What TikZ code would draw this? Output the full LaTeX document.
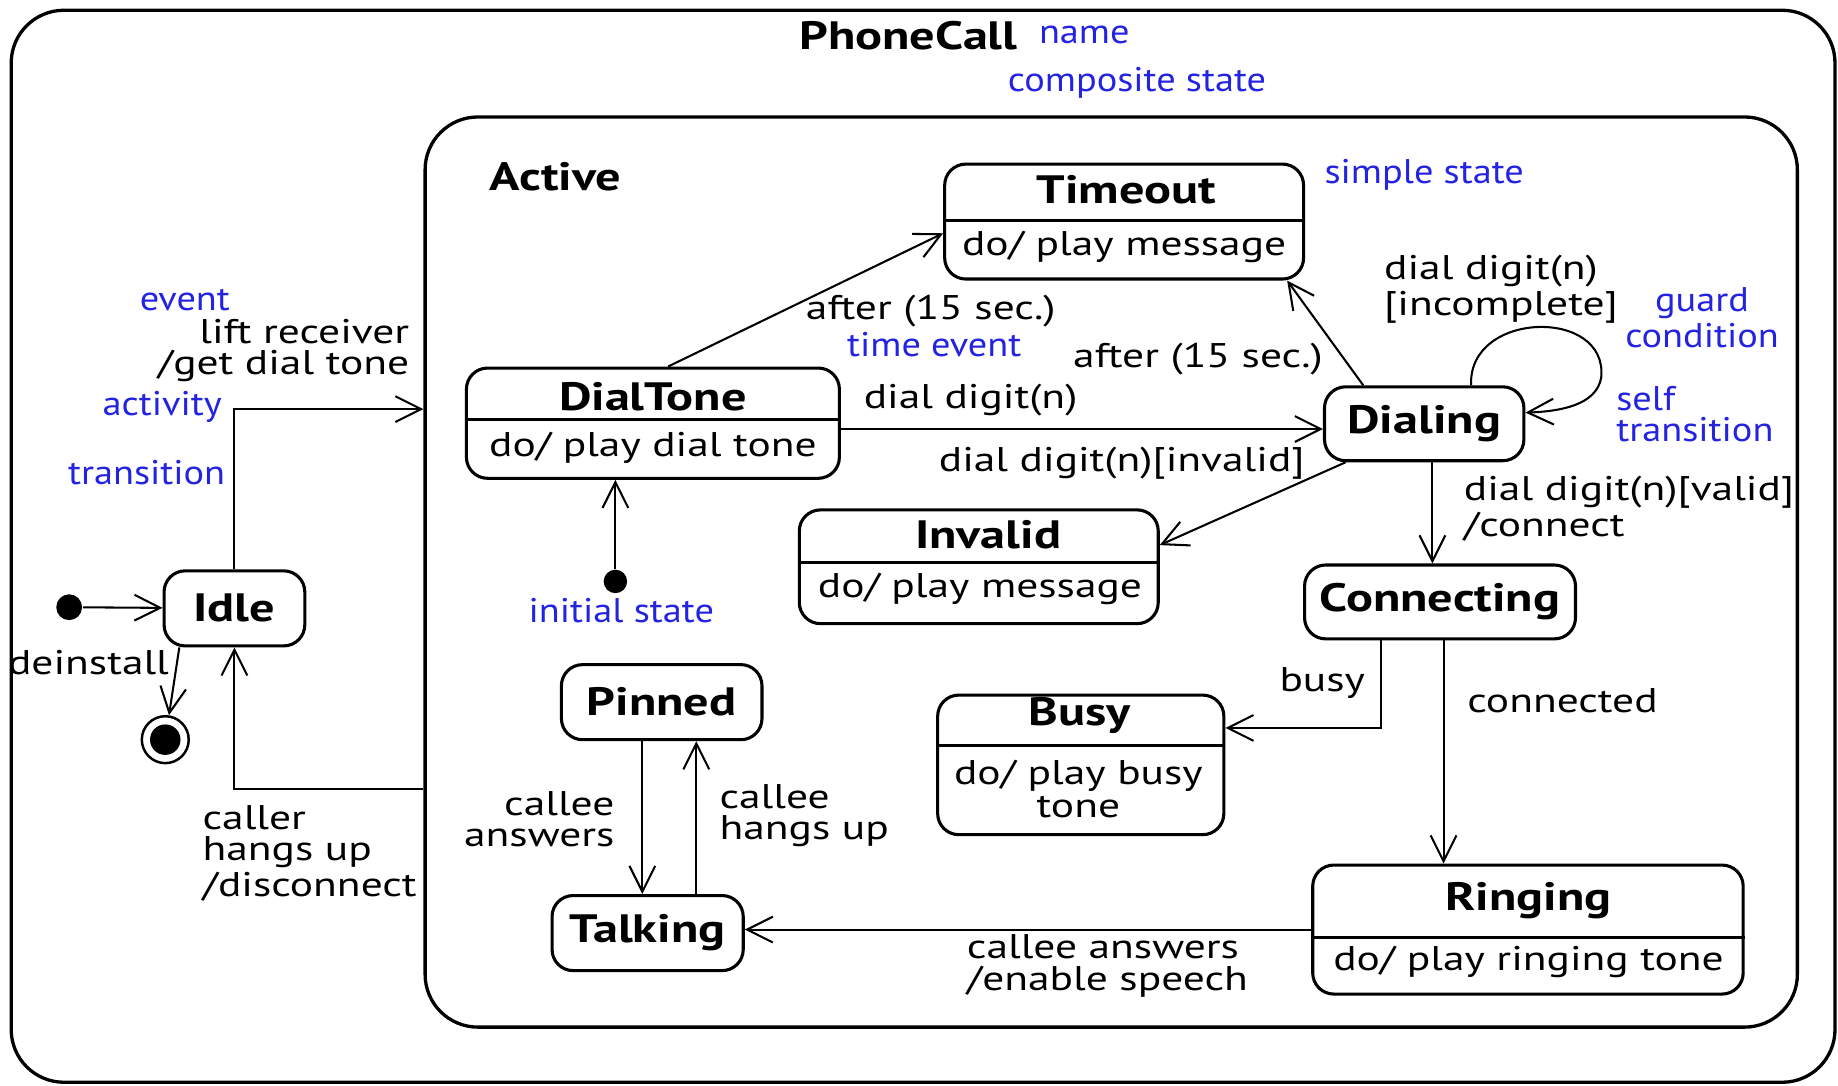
\documentclass[tikz,border=0pt]{standalone}
\usepackage{fontspec}
\setmainfont{PT Sans}[FakeStretch=1.27]
\newfontfamily\notefont{PT Sans}[FakeStretch=1.12]
\usetikzlibrary{arrows.meta}
\definecolor{noteblue}{RGB}{35,35,225}

\begin{document}
\begin{tikzpicture}[
        x=0.01cm, y=-0.01cm,
        ->,
        >={Straight Barb[length=2.2mm, width=2.2mm]},
        line width=0.5pt,
        % boxes
        region/.style={draw, rounded corners=4.5mm, line width=0.8pt, inner sep=0pt},
        state/.style={draw, rounded corners=1.8mm, line width=0.75pt, inner sep=0pt},
        divider/.style={-, line width=0.75pt},
        % texts
        title/.style={font=\fontsize{9.6}{10}\selectfont\bfseries, inner sep=0pt},
        act/.style={font=\fontsize{8.3}{8}\selectfont, inner sep=0pt, align=center},
        trans/.style={font=\fontsize{8.3}{7.6}\selectfont, inner sep=0pt, align=left},
        note/.style={trans, font=\fontsize{8.3}{7.6}\notefont, text=noteblue},
        dot/.style={circle, fill=black, inner sep=0pt, minimum size=2mm},
    ]
    \useasboundingbox (0,0) rectangle (1568,926);

    % composite states
    \node (phonecall) [region, minimum width=15.55cm, minimum height=9.14cm] at (787.5,466) {};
    \node (active) [region, minimum width=11.70cm, minimum height=7.76cm] at (948,488) {};
    \node (phonecall-t) [title] at (775,30) {PhoneCall};
    \node (name) [note] at (925,30) {name};
    \node (composite) [note] at (970,71) {composite state};
    \node (active-t) [title] at (474,151) {Active};

    % simple states
    \node (idle) [state, minimum width=1.20cm, minimum height=0.64cm, title] at (200,519) {Idle};
    \node (dialing) [state, minimum width=1.70cm, minimum height=0.63cm, title] at (1215,361.5) {Dialing};
    \node (connecting) [state, minimum width=2.31cm, minimum height=0.63cm, title] at (1228.5,513.5) {Connecting};
    \node (pinned) [state, minimum width=1.71cm, minimum height=0.64cm, title] at (564.5,599) {Pinned};
    \node (talking) [state, minimum width=1.63cm, minimum height=0.64cm, title] at (552.5,796) {Talking};

    % states with an activity
    \node (timeout) [state, minimum width=3.06cm, minimum height=0.98cm] at (959,189) {};
    \draw [divider] (timeout.west |- 0,188) -- (timeout.east |- 0,188);
    \node (timeout-t) [title] at (961,162) {Timeout};
    \node (timeout-do) [act] at (959,211) {do/ play message};

    \node (dialtone) [state, minimum width=3.18cm, minimum height=0.94cm] at (557,361) {};
    \draw [divider] (dialtone.west |- 0,358) -- (dialtone.east |- 0,358);
    \node (dialtone-t) [title] at (557,338) {DialTone};
    \node (dialtone-do) [act] at (557,382) {do/ play dial tone};

    \node (invalid) [state, minimum width=3.06cm, minimum height=0.97cm] at (835,483.5) {};
    \draw [divider] (invalid.west |- 0,480) -- (invalid.east |- 0,480);
    \node (invalid-t) [title] at (843,456) {Invalid};
    \node (invalid-do) [act] at (836,502) {do/ play message};

    \node (busy) [state, minimum width=2.44cm, minimum height=1.19cm] at (922,652.5) {};
    \draw [divider] (busy.west |- 0,636) -- (busy.east |- 0,636);
    \node (busy-t) [title] at (921,610) {Busy};
    \node (busy-do) [act] at (920,673) {do/ play busy\\tone};

    \node (ringing) [state, minimum width=3.67cm, minimum height=1.10cm] at (1303.5,793) {};
    \draw [divider] (ringing.west |- 0,800) -- (ringing.east |- 0,800);
    \node (ringing-t) [title] at (1304,768) {Ringing};
    \node (ringing-do) [act] at (1304,821) {do/ play ringing tone};

    % pseudo states
    \node (start) [dot, minimum size=2.2mm] at (59,518) {};
    \node (final) [circle, draw, line width=0.6pt, minimum size=0.40cm, inner sep=0pt,
        path picture={\fill (path picture bounding box.center) circle (1.3mm);}] at (141,631) {};
    \node (init) [dot] at (525,496) {};
    \node (init-note) [note] at (530,521) {initial state};

    % transitions
    \draw (start) -- (idle);
    \draw ([xshift=-0.47cm]idle.south) -- (final);
    \draw (idle.north) |- (active.west |- 0,349);
    \draw (active.west |- 0,673) -| (idle.south);
    \draw (init) -- (init |- dialtone.south);
    \draw ([xshift=0.13cm]dialtone.north) -- (timeout.west |- 0,199);
    \draw (dialtone.east |- 0,366) -- (dialing.west |- 0,366);
    \draw ([xshift=-0.67cm]dialing.south) -- (invalid.east |- 0,465);
    \draw ([xshift=-0.52cm]dialing.north) -- ([xshift=1.39cm]timeout.south);
    \draw ([xshift=0.40cm]dialing.north) .. controls (1252,265) and (1372,262) .. (1366,322)
        .. controls (1362,346) and (1330,351) .. (dialing.east |- 0,352);
    \draw ([xshift=0.07cm]dialing.south) -- ([xshift=0.07cm]dialing.south |- connecting.north);
    \draw ([xshift=-0.50cm]connecting.south) |- (busy.east |- 0,621);
    \draw ([xshift=0.03cm]connecting.south) -- ([xshift=0.03cm]connecting.south |- ringing.north);
    \draw (ringing.west) -- (ringing.west -| talking.east);
    \draw ([xshift=-0.165cm]pinned.south) -- ([xshift=-0.165cm]pinned.south |- talking.north);
    \draw ([xshift=0.415cm]talking.north) -- ([xshift=0.415cm]talking.north |- pinned.south);

    % labels
    \node (event) [note, anchor=east] at (197,256) {event};
    \node (lift) [trans, anchor=east, align=right] at (350,299) {lift receiver\\/get dial tone};
    \node (activity) [note, anchor=east] at (190,347) {activity};
    \node (transition) [note, anchor=east] at (193,403) {transition};
    \node (deinstall) [trans, anchor=east] at (145,565) {deinstall};
    \node (hangup) [trans, anchor=west] at (172,728) {caller\\hangs up\\/disconnect};
    \node (after1) [trans] at (794,265) {after (15 sec.)};
    \node (timeevent) [note] at (797,294) {time event};
    \node (simple) [note] at (1215,149) {simple state};
    \node (digit) [trans, anchor=west] at (736,341) {dial digit(n)};
    \node (digit-inv) [trans] at (957,395) {dial digit(n)[invalid]};
    \node (after2) [trans] at (1022,306) {after (15 sec.)};
    \node (digit-inc) [trans, anchor=west] at (1180,247) {dial digit(n)\\{}[incomplete]};
    \node (guard) [note, align=center] at (1452,271) {guard\\condition};
    \node (self) [note, anchor=west] at (1378,353) {self\\transition};
    \node (digit-val) [trans, anchor=west] at (1248,434) {dial digit(n)[valid]\\/connect};
    \node (busy-l) [trans] at (1128,583) {busy};
    \node (connected) [trans] at (1333,598) {connected};
    \node (answers) [trans, anchor=west] at (824,824) {callee answers\\/enable speech};
    \node (pin-ans) [trans, anchor=east, align=right] at (525,699) {callee\\answers};
    \node (pin-hang) [trans, anchor=west] at (613,696) {callee\\hangs up};
\end{tikzpicture}
\end{document}
